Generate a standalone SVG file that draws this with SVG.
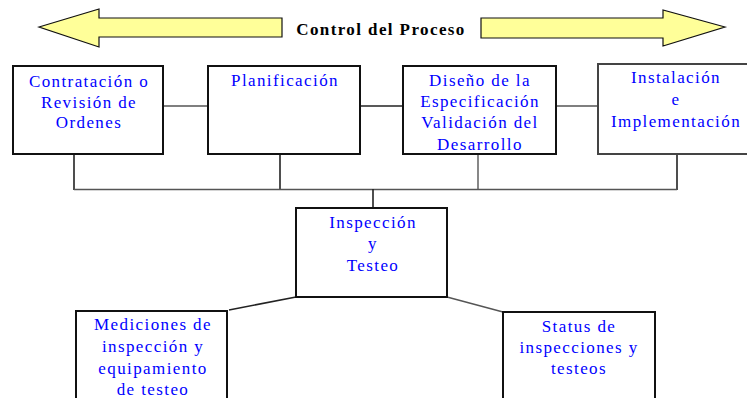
<svg xmlns="http://www.w3.org/2000/svg" width="747" height="398" viewBox="0 0 747 398">
<style>
.box{fill:#fff;stroke:#111;stroke-width:2}
.lbl{font-family:"Liberation Serif","Times New Roman",serif;font-size:17px;fill:#0000ff;text-anchor:middle;letter-spacing:1.4px}
.con{fill:none;stroke:#222;stroke-width:1.6}
.conl{fill:none;stroke:#555;stroke-width:1.4}
.arr{fill:#ffff99;stroke:#111;stroke-width:1.2;stroke-linejoin:miter}
.title{font-family:"Liberation Serif","Times New Roman",serif;font-size:17px;font-weight:bold;fill:#000;text-anchor:middle;letter-spacing:1.4px}
</style>
<g id="control">
<polygon class="arr" points="39,27 99,9 99,18 282,18 282,37 99,37 99,47"/>
<polygon class="arr" points="725,27 663,10 663,18 481,18 481,38 663,38 663,46"/>
<text class="title" x="381" y="35">Control del Proceso</text>
</g>
<g id="connectors">
<line class="conl" x1="163" y1="106" x2="208" y2="106"/>
<line class="con" x1="360" y1="106" x2="403" y2="106"/>
<line class="conl" x1="556" y1="106" x2="598" y2="106"/>
<line class="con" x1="74" y1="154" x2="74" y2="190"/>
<line class="con" x1="280" y1="154" x2="280" y2="190"/>
<line class="conl" x1="478" y1="154" x2="478" y2="190"/>
<line class="con" x1="677" y1="154" x2="677" y2="190"/>
<line class="conl" x1="74" y1="189.5" x2="677" y2="189.5"/>
<line class="con" x1="373" y1="189" x2="373" y2="208"/>
<line class="con" x1="229" y1="310" x2="296" y2="297"/>
<line class="conl" x1="447" y1="297" x2="503" y2="312"/>
</g>
<g id="n1">
<rect class="box" x="13" y="66" width="150" height="88"/>
<text class="lbl" x="89" y="87">Contratación o</text>
<text class="lbl" x="89" y="108">Revisión de</text>
<text class="lbl" x="89" y="128">Ordenes</text>
</g>
<g id="n2">
<rect class="box" x="208" y="66" width="152" height="88"/>
<text class="lbl" x="285" y="86">Planificación</text>
</g>
<g id="n3">
<rect class="box" x="403" y="66" width="153" height="88"/>
<text class="lbl" x="480" y="86">Diseño de la</text>
<text class="lbl" x="480" y="107">Especificación</text>
<text class="lbl" x="480" y="128">Validación del</text>
<text class="lbl" x="480" y="150">Desarrollo</text>
</g>
<g id="n4">
<rect class="box" x="598" y="64" width="152" height="90" style="stroke:#444"/>
<text class="lbl" x="676" y="83">Instalación</text>
<text class="lbl" x="676" y="105">e</text>
<text class="lbl" x="676" y="127">Implementación</text>
</g>
<g id="n5">
<rect class="box" x="296" y="208" width="151" height="89"/>
<text class="lbl" x="373" y="228">Inspección</text>
<text class="lbl" x="373" y="249">y</text>
<text class="lbl" x="373" y="271">Testeo</text>
</g>
<g id="n6">
<rect class="box" x="76" y="311" width="151" height="100"/>
<text class="lbl" x="153" y="330">Mediciones de</text>
<text class="lbl" x="153" y="352">inspección y</text>
<text class="lbl" x="153" y="374">equipamiento</text>
<text class="lbl" x="153" y="395">de testeo</text>
</g>
<g id="n7">
<rect class="box" x="503" y="312" width="152" height="100"/>
<text class="lbl" x="579" y="332">Status de</text>
<text class="lbl" x="579" y="353">inspecciones y</text>
<text class="lbl" x="579" y="374">testeos</text>
</g>
</svg>
